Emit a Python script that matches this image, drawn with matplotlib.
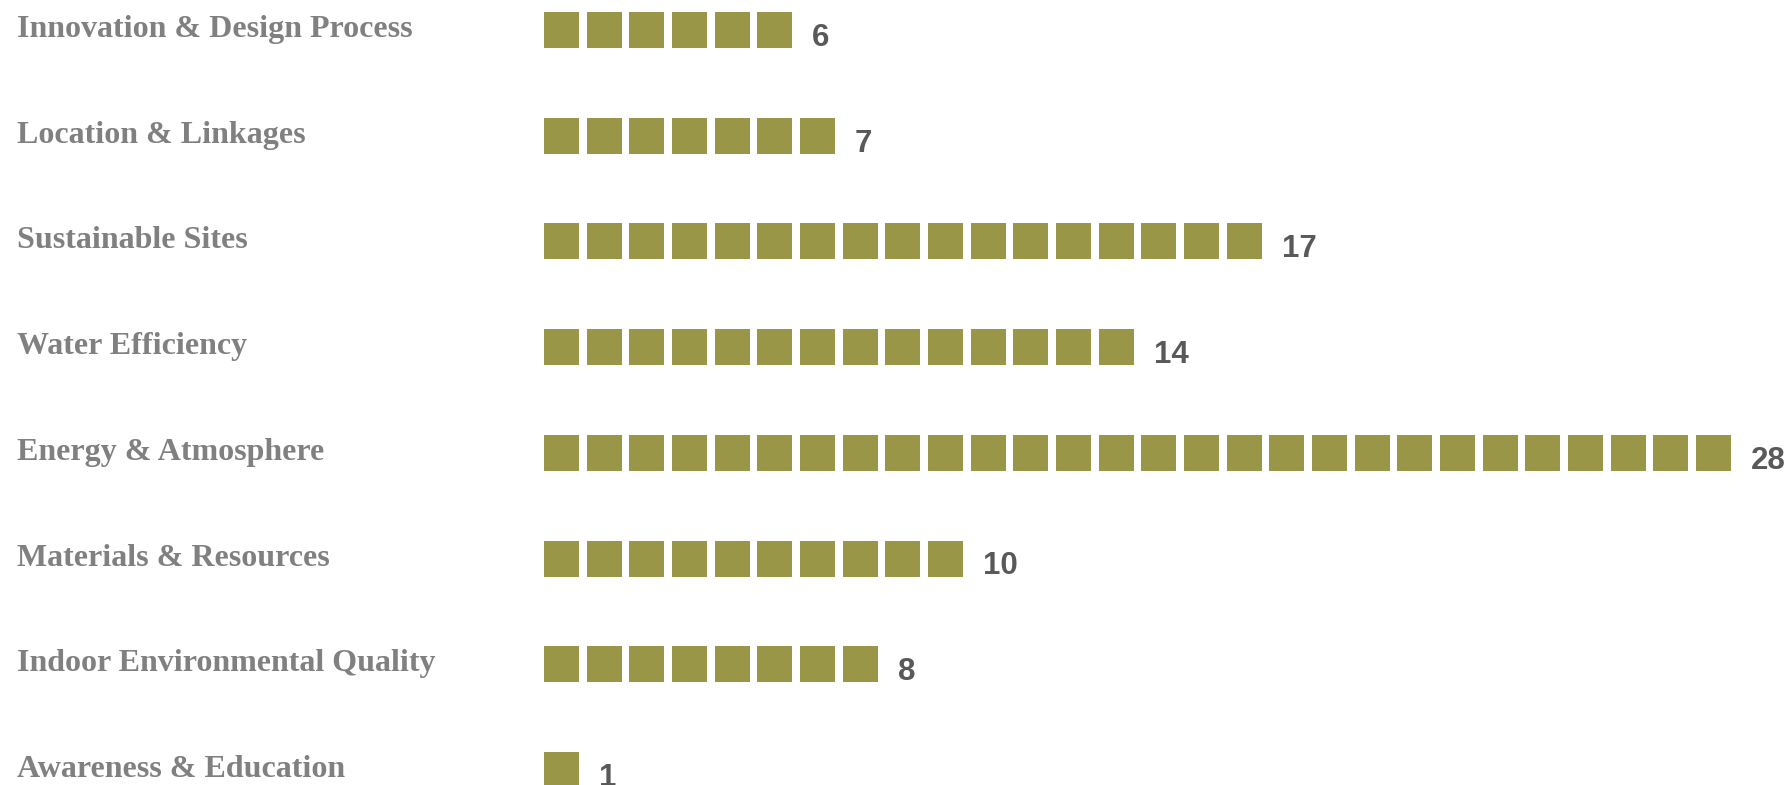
import numpy as np
import matplotlib
matplotlib.use("Agg")
import matplotlib.pyplot as plt

# LEED credit categories and number of credits in each
categories = ["Innovation & Design Process", "Location & Linkages",
              "Sustainable Sites", "Water Efficiency", "Energy & Atmosphere",
              "Materials & Resources", "Indoor Environmental Quality",
              "Awareness & Education"]
credits = [6, 7, 17, 14, 28, 10, 8, 1]

W, H = 1792, 785
fig = plt.figure(figsize=(W / 100, H / 100), dpi=100)
ax = fig.add_axes([0, 0, 1, 1])
ax.set_xlim(0, W)
ax.set_ylim(H, 0)
ax.axis("off")

# layout in pixels
x0 = 544          # left edge of the first square
step = 42.67      # square pitch
sq = 35           # square size
row0, row_gap = 30, 105.7

olive = "#999648"
for i, (name, n) in enumerate(zip(categories, credits)):
    yc = row0 + i * row_gap
    xs = x0 + np.arange(n) * step
    ax.bar(xs, sq + 1, width=sq, bottom=yc - 18, align="edge",
           color=olive, linewidth=0)
    ax.text(17, yc + 7, name, ha="left", va="baseline",
            family="Liberation Serif", weight="bold", fontsize=23,
            color="#808080")
    ax.text(xs[-1] + sq + 20, yc + 16, str(n), ha="left", va="baseline",
            family="Liberation Sans", weight="bold", fontsize=22.5,
            color="#595959")

fig.savefig("out.png", dpi=100)
